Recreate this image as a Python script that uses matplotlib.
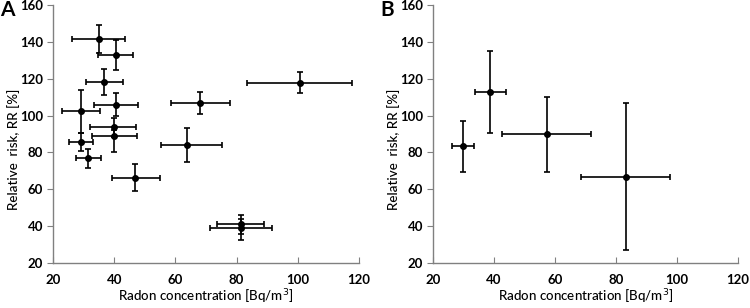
import numpy as np
import matplotlib
matplotlib.use("Agg")
import matplotlib.pyplot as plt

plt.rcParams['font.family'] = ['Lato', 'DejaVu Sans']

# panel A: radon concentration, relative risk and error limits
a_x = [34.9, 40.5, 36.6, 40.5, 29.2, 39.9, 39.9, 29.0, 31.4, 46.9, 63.8, 68.0, 100.6, 81.4, 81.4]
a_xlo = [26.3, 34.8, 30.7, 33.4, 22.8, 32.2, 32.6, 25.2, 27.4, 39.3, 55.4, 58.6, 83.4, 73.7, 71.2]
a_xhi = [43.6, 46.1, 42.8, 47.7, 35.3, 47.1, 47.5, 33.1, 35.6, 54.8, 75.1, 77.7, 117.7, 88.9, 91.6]
a_y = [141.5, 132.6, 118.3, 105.8, 102.4, 93.7, 88.8, 85.5, 77.0, 66.3, 84.1, 106.9, 117.8, 41.2, 39.0]
a_ylo = [133.9, 124.5, 110.9, 99.7, 90.6, 88.5, 80.0, 80.6, 71.4, 59.1, 75.0, 101.1, 112.0, 36.0, 32.3]
a_yhi = [149.1, 140.8, 125.4, 112.0, 113.8, 98.4, 92.0, 90.4, 81.7, 73.6, 93.3, 112.7, 123.8, 45.9, 44.0]

# panel B
b_x = [29.9, 38.8, 57.4, 83.4]
b_xlo = [26.2, 33.8, 42.8, 68.6]
b_xhi = [33.6, 43.9, 71.7, 97.8]
b_y = [83.6, 112.9, 89.9, 66.9]
b_ylo = [69.6, 90.6, 69.6, 26.8]
b_yhi = [97.3, 135.0, 110.2, 106.9]

def panel(ax, x, xlo, xhi, y, ylo, yhi, letter):
    x = np.array(x); y = np.array(y)
    xerr = [x - np.array(xlo), np.array(xhi) - x]
    yerr = [y - np.array(ylo), np.array(yhi) - y]
    ax.errorbar(x, y, xerr=xerr, yerr=yerr, fmt='o', color='black', ms=4,
                elinewidth=1.2, capsize=2.5, capthick=1.2)
    ax.set_xlim(20, 120)
    ax.set_ylim(20, 160)
    ax.set_xticks(range(20, 121, 20))
    ax.set_yticks(range(20, 161, 20))
    for s in ['top', 'right']:
        ax.spines[s].set_visible(False)
    for s in ['left', 'bottom']:
        ax.spines[s].set_color('#808080')
        ax.spines[s].set_linewidth(1.0)
    ax.tick_params(axis='y', direction='out', length=4, color='#808080', labelsize=9.5, pad=3)
    ax.tick_params(axis='x', direction='in', length=4, color='#808080', labelsize=9.5, pad=8)
    for t in ax.get_xticklabels() + ax.get_yticklabels():
        t.set_fontweight('bold')
    ax.set_xlabel('Radon concentration [Bq/m$^3$]', fontsize=9.6, fontweight='medium', labelpad=1)
    ax.set_ylabel('Relative  risk, RR [%]', fontsize=9.6, fontweight='medium')
    ax.yaxis.set_label_coords(-0.108, 0.44)
    ax.text(-0.173, 1.02, letter, transform=ax.transAxes, fontsize=15, fontweight='bold',
            ha='left', va='top')

fig = plt.figure(figsize=(7.5, 3.08), dpi=100)
ax1 = fig.add_axes([0.0707, 0.146, 0.408, 0.838])
ax2 = fig.add_axes([0.577, 0.146, 0.407, 0.838])
panel(ax1, a_x, a_xlo, a_xhi, a_y, a_ylo, a_yhi, 'A')
panel(ax2, b_x, b_xlo, b_xhi, b_y, b_ylo, b_yhi, 'B')

fig.savefig('out.png', dpi=100)
